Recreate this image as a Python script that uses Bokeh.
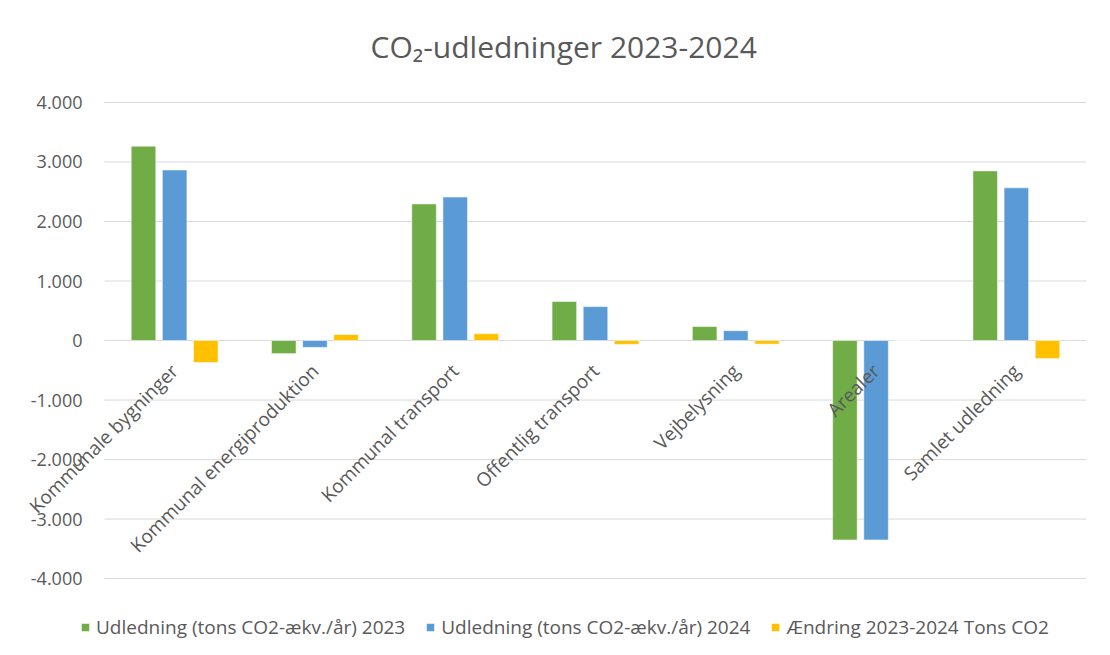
import math
from bokeh.plotting import figure
from bokeh.models import ColumnDataSource, Legend, LegendItem, FixedTicker, Range1d
from bokeh.embed import file_html
from bokeh.resources import INLINE

categories = ["Kommunale bygninger", "Kommunal energiproduktion", "Kommunal transport",
              "Offentlig transport", "Vejbelysning", "Arealer", "Samlet udledning"]
udledning_2023 = [3265, -220, 2295, 655, 235, -3350, 2850]
udledning_2024 = [2865, -115, 2410, 570, 165, -3350, 2565]
aendring = [-370, 100, 115, -65, -60, 0, -300]
series_labels = ["Udledning (tons CO2-ækv./år) 2023",
                 "Udledning (tons CO2-ækv./år) 2024",
                 "Ændring 2023-2024 Tons CO2"]
y_ticks = [-4000, -3000, -2000, -1000, 0, 1000, 2000, 3000, 4000]
y_tick_labels = ["-4.000", "-3.000", "-2.000", "-1.000", "0", "1.000", "2.000", "3.000", "4.000"]

FONT = "Open Sans"
TXT = "#595959"
colors = ["#70AD47", "#5B9BD5", "#FFC000"]

n = len(categories)
centers = [i + 0.5 for i in range(n)]          # category slots on a numeric scale
bw = 0.175
off = 0.222
src = ColumnDataSource(dict(
    xa=[c - off for c in centers], xb=centers, xc=[c + off for c in centers],
    a=udledning_2023, b=udledning_2024, c=aendring))

# the frame reaches beyond the -4000..4000 area so that the rotated first
# label, the top tick label and the legend are not clipped
p = figure(x_range=Range1d(-0.67, n), y_range=Range1d(-5040, 4201),
           width=1094, height=640, output_backend="svg", toolbar_location=None,
           min_border_left=10, min_border_right=8, min_border_top=89, min_border_bottom=0)

p.title.text = "CO₂-udledninger 2023-2024"
p.title.align = "left"
p.title.offset = 360
p.title.text_font = FONT
p.title.text_font_size = "30px"
p.title.text_font_style = "normal"
p.title.text_color = TXT
p.title.standoff = 47

p.outline_line_color = None
p.xgrid.grid_line_color = None
p.ygrid.grid_line_color = None

# horizontal gridlines spanning only the category area
p.segment(x0=[0] * len(y_ticks), x1=[n] * len(y_ticks), y0=y_ticks, y1=y_ticks,
          line_color="#D9D9D9", line_width=1, level="underlay")

ya = p.yaxis[0]
ya.fixed_location = 0
ya.ticker = FixedTicker(ticks=y_ticks)
ya.major_label_overrides = {t: l for t, l in zip(y_ticks, y_tick_labels)}
ya.axis_line_color = None
ya.major_tick_line_color = None
ya.minor_tick_line_color = None
ya.major_tick_out = 0
ya.major_tick_in = 0
ya.major_label_standoff = 22
ya.major_label_text_font = FONT
ya.major_label_text_font_size = "18px"
ya.major_label_text_color = TXT

xa = p.xaxis[0]
xa.fixed_location = 0
xa.ticker = FixedTicker(ticks=centers)
xa.major_label_overrides = {c: cat for c, cat in zip(centers, categories)}
xa.major_label_orientation = math.pi / 4
xa.axis_line_color = None
xa.major_tick_line_color = None
xa.minor_tick_line_color = None
xa.major_tick_out = 0
xa.major_tick_in = 0
xa.major_label_standoff = 27
xa.major_label_text_font = FONT
xa.major_label_text_font_size = "19px"
xa.major_label_text_color = TXT

r1 = p.vbar(x="xa", top="a", width=bw, source=src,
            fill_color=colors[0], line_color="white", line_width=0.5)
r2 = p.vbar(x="xb", top="b", width=bw, source=src,
            fill_color=colors[1], line_color="white", line_width=0.5)
r3 = p.vbar(x="xc", top="c", width=bw, source=src,
            fill_color=colors[2], line_color="white", line_width=0.5)

legend = Legend(items=[LegendItem(label=series_labels[0], renderers=[r1]),
                       LegendItem(label=series_labels[1], renderers=[r2]),
                       LegendItem(label=series_labels[2], renderers=[r3])],
                orientation="horizontal", location=(70, 0),
                border_line_color=None, background_fill_alpha=0,
                label_text_font=FONT, label_text_font_size="19px", label_text_color=TXT,
                glyph_width=10, glyph_height=10, spacing=20, padding=4, margin=0,
                label_standoff=6)
p.add_layout(legend)

open("out.html", "w").write(file_html(p, INLINE))
